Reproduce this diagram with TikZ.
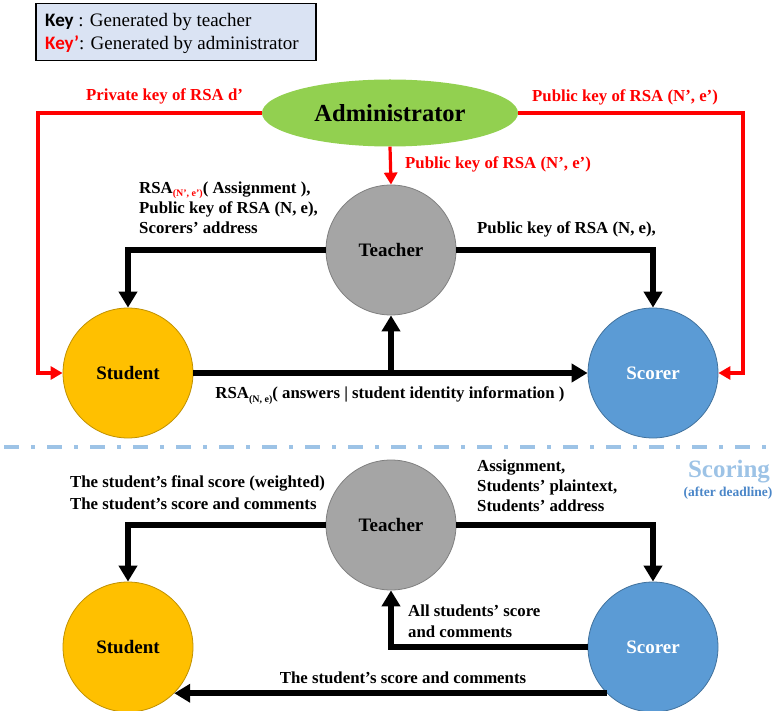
\documentclass[tikz,border=0pt]{standalone}
\usepackage{fontspec}
\setmainfont{Liberation Serif}
\newfontfamily\keyfont{Carlito}
\usetikzlibrary{arrows.meta,shapes.geometric}

\definecolor{admfill}{HTML}{92D050}
\definecolor{stufill}{HTML}{FFC000}
\definecolor{stuline}{HTML}{BF9000}
\definecolor{scofill}{HTML}{5B9BD5}
\definecolor{scoline}{HTML}{41719C}
\definecolor{teafill}{HTML}{A5A5A5}
\definecolor{tealine}{HTML}{7F7F7F}
\definecolor{keybg}{HTML}{DAE3F3}
\definecolor{sepline}{HTML}{9DC3E6}
\definecolor{phasenote}{HTML}{4A86C8}

\begin{document}
\begin{tikzpicture}[x=1pt,y=-1pt,
  actor/.style={circle, minimum size=130pt, inner sep=0pt, line width=0.8pt,
    font=\fontsize{19}{22}\selectfont\bfseries},
  studentnode/.style={actor, fill=stufill, draw=stuline},
  teachernode/.style={actor, fill=teafill, draw=tealine},
  scorernode/.style={actor, fill=scofill, draw=scoline, text=white},
  flow/.style={line width=6pt, -{Triangle[width=18pt,length=16pt]}},
  keyflow/.style={draw=red, line width=3.2pt, -{Triangle[width=13pt,length=12pt]}},
  lbl/.style={font=\fontsize{16.8}{20}\selectfont\bfseries, inner sep=0pt, anchor=base west},
  redlbl/.style={lbl, text=red},
  keytext/.style={font=\fontsize{19}{22}\selectfont, inner sep=0pt, anchor=base west},
]
\useasboundingbox (0,0) rectangle (774,711);

% legend box
\node[draw, line width=1.5pt, fill=keybg, minimum width=280pt, minimum height=57pt,
      inner sep=0pt, anchor=north west] (legend) at (35,3) {};
\node[keytext] (legendA) at (45,27) {{\keyfont\bfseries Key} : Generated by teacher};
\node[keytext] (legendB) at (45,50) {{\keyfont\bfseries\color{red}Key’}: Generated by administrator};

% ---------- distribution phase ----------
\node[ellipse, fill=admfill, minimum width=256pt, minimum height=67pt, inner sep=0pt,
      font=\fontsize{24.5}{28}\selectfont\bfseries] (admin) at (390,113) {Administrator};
\node[teachernode] (t1) at (391,250) {Teacher};
\node[studentnode] (s1) at (128,373) {Student};
\node[scorernode] (sc1) at (653,373) {Scorer};

\coordinate (lc) at (38,373);
\coordinate (rc) at (743,373);
\coordinate (mid1) at (391,373);

\draw[keyflow] (admin.west) -| (lc) -- (s1.west);
\draw[keyflow] (admin.east) -| (rc) -- (sc1.east);
\draw[keyflow] (admin.south) -- (t1.north);

\draw[flow] (t1.west) -| (s1.north);
\draw[flow] (t1.east) -| (sc1.north);
\draw[flow] (s1.east) -- (sc1.west);
\draw[flow] (mid1) -- (t1.south);

\node[redlbl] (privlbl) at (86,101) {Private key of RSA d’};
\node[redlbl] (publbl1) at (532,102) {Public key of RSA (N’, e’)};
\node[redlbl] (publbl2) at (405,169) {Public key of RSA (N’, e’)};
\node[lbl] (asg1) at (139,194) {RSA\raisebox{-3pt}{\fontsize{10}{10}\selectfont\color{red}(N’, e’)}( Assignment ),};
\node[lbl] (asg2) at (139,214) {Public key of RSA (N, e),};
\node[lbl] (asg3) at (139,234) {Scorers’ address};
\node[lbl] (pkscorer) at (477,234) {Public key of RSA (N, e),};
\node[lbl, anchor=base] (answers) at (390,399) {RSA\raisebox{-3pt}{\fontsize{10}{10}\selectfont(N, e)}( answers | student identity information )};

% phase separator
\draw[sepline, line width=4pt, dash pattern=on 15pt off 12pt on 4pt off 12pt] (4,447) -- (774,447);
\node[font=\fontsize{25}{28}\selectfont\bfseries, text=sepline, inner sep=0pt, anchor=base] (scoring) at (729,477) {Scoring};
\node[font=\fontsize{13.5}{15}\selectfont\bfseries, text=phasenote, inner sep=0pt, anchor=base] (deadline) at (728,496) {(after deadline)};

% ---------- scoring phase ----------
\node[teachernode] (t2) at (391,525) {Teacher};
\node[studentnode] (s2) at (128,647) {Student};
\node[scorernode] (sc2) at (653,647) {Scorer};

\draw[flow] (t2.west) -| (s2.north);
\draw[flow] (t2.east) -| (sc2.north);
\draw[flow] (sc2.west) -| (t2.south);
\draw[flow] (sc2.-135) -- (s2.-45);

\node[lbl] (fin1) at (70,487) {The student’s final score (weighted)};
\node[lbl] (fin2) at (70,509) {The student’s score and comments};
\node[lbl] (pl1) at (477,471) {Assignment,};
\node[lbl] (pl2) at (477,491) {Students’ plaintext,};
\node[lbl] (pl3) at (477,511) {Students’ address};
\node[lbl] (all1) at (408,616) {All students’ score};
\node[lbl] (all2) at (408,637) {and comments};
\node[lbl, anchor=base] (back) at (403,683) {The student’s score and comments};
\end{tikzpicture}
\end{document}
